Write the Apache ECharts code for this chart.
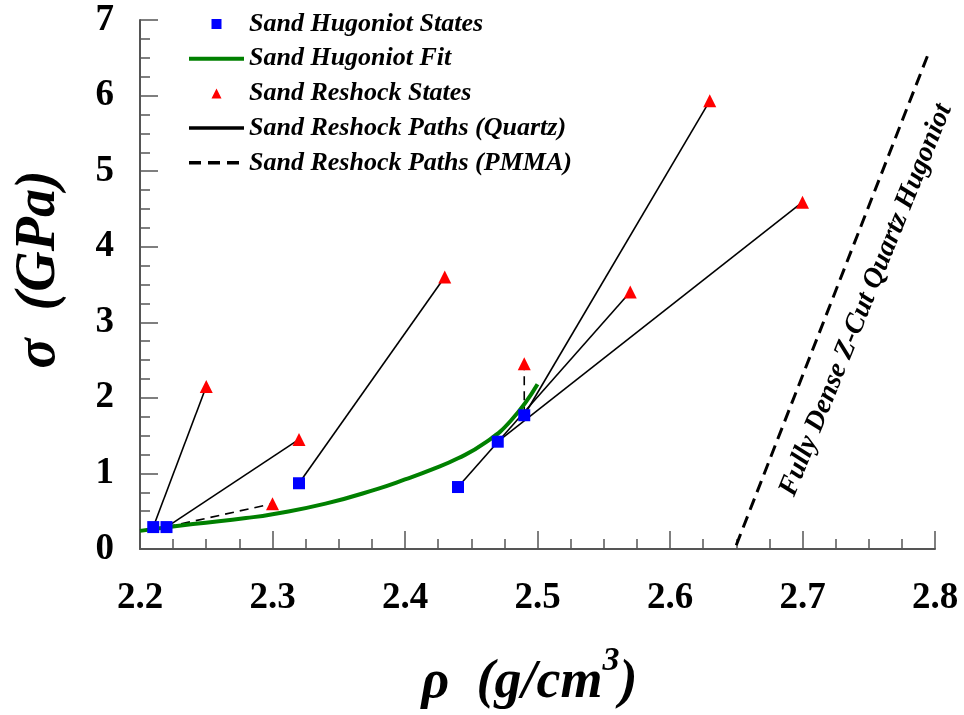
<!DOCTYPE html>
<html>
<head>
<meta charset="utf-8">
<script src="https://cdn.jsdelivr.net/npm/echarts@6/dist/echarts.min.js"></script>
<style>
  html, body { margin: 0; padding: 0; background: #fff; }
  #chart { width: 964px; height: 715px; }
</style>
</head>
<body>
<div id="chart"></div>
<script>
// Sand Hugoniot states (density g/cm3, stress GPa)
const hugoniotStates = [
  [2.21, 0.29], [2.22, 0.29], [2.32, 0.87], [2.44, 0.82], [2.47, 1.42], [2.49, 1.77]
]
// Sand reshock states
const reshockStates = [
  [2.25, 2.15], [2.32, 1.45], [2.30, 0.60], [2.43, 3.60],
  [2.49, 2.45], [2.57, 3.40], [2.63, 5.93], [2.70, 4.59]
]
// Hugoniot fit
const fitRho = [2.20, 2.24, 2.28, 2.30, 2.34, 2.38, 2.40, 2.42, 2.44, 2.46, 2.48, 2.50]
const fitSigma = [0.24, 0.33, 0.41, 0.46, 0.60, 0.80, 0.92, 1.05, 1.20, 1.40, 1.70, 2.18]
// reshock paths: [from, to]
const quartzPaths = [
  [[2.21, 0.29], [2.25, 2.15]],
  [[2.22, 0.29], [2.32, 1.45]],
  [[2.32, 0.87], [2.43, 3.60]],
  [[2.44, 0.82], [2.57, 3.40]],
  [[2.47, 1.42], [2.70, 4.59]],
  [[2.49, 1.77], [2.63, 5.93]]
]
const pmmaPaths = [
  [[2.22, 0.29], [2.30, 0.60]],
  [[2.49, 1.77], [2.49, 2.45]]
]
// fully dense z-cut quartz hugoniot
const quartzHugoniot = [[2.65, 0.05], [2.796, 6.6]]

const xTicks = [2.2, 2.8, 0.1]
const yTicks = [0, 7, 1]

const serif = 'Liberation Serif'
const chart = echarts.init(document.getElementById('chart'))

const series = [
  {
    name: 'Sand Hugoniot Fit',
    type: 'line',
    symbol: 'none',
    smooth: true,
    data: fitRho.map((r, i) => [r, fitSigma[i]]),
    lineStyle: { color: '#008000', width: 4 },
    itemStyle: { color: '#008000' },
    z: 3
  },
  {
    name: '',
    type: 'line',
    symbol: 'none',
    data: quartzHugoniot,
    lineStyle: { color: '#000', width: 3, type: [12, 7] },
    z: 2
  }
]
quartzPaths.forEach(p => series.push({
  name: 'Sand Reshock Paths (Quartz)',
  type: 'line',
  symbol: 'none',
  data: p,
  lineStyle: { color: '#000', width: 1.6 },
  itemStyle: { color: '#000' },
  z: 2
}))
pmmaPaths.forEach(p => series.push({
  name: 'Sand Reshock Paths (PMMA)',
  type: 'line',
  symbol: 'none',
  data: p,
  lineStyle: { color: '#000', width: 1.6, type: [9, 6] },
  itemStyle: { color: '#000' },
  z: 2
}))
series.push({
  name: 'Sand Hugoniot States',
  type: 'scatter',
  symbol: 'rect',
  symbolSize: 12,
  data: hugoniotStates,
  itemStyle: { color: '#0000ff', opacity: 1 },
  z: 4
})
series.push({
  name: 'Sand Reshock States',
  type: 'scatter',
  symbol: 'triangle',
  symbolSize: 13,
  data: reshockStates,
  itemStyle: { color: '#ff0000', opacity: 1 },
  z: 4
})

const axisStyle = { lineStyle: { color: '#555', width: 2 } }
const lineItem = (name, width, type) => ({
  name, itemStyle: { opacity: 0 }, lineStyle: { width, type }
})

chart.setOption({
  animation: false,
  backgroundColor: '#fff',
  grid: { left: 140, right: 29, top: 20, bottom: 166, outerBoundsMode: 'none' },
  legend: {
    orient: 'vertical',
    left: 182,
    top: 6,
    itemWidth: 55,
    itemHeight: 10,
    itemGap: 8.7,
    itemTextGap: 3,
    symbolKeepAspect: true,
    textStyle: {
      fontFamily: serif, fontSize: 26, fontStyle: 'italic', fontWeight: 'bold',
      color: '#000', lineHeight: 26
    },
    data: [
      { name: 'Sand Hugoniot States', icon: 'path://M0,0h10v10h-10z' },
      lineItem('Sand Hugoniot Fit', 4, 'solid'),
      { name: 'Sand Reshock States', icon: 'path://M5,0L10,10L0,10Z' },
      lineItem('Sand Reshock Paths (Quartz)', 3.5, 'solid'),
      lineItem('Sand Reshock Paths (PMMA)', 3.5, [12, 7])
    ]
  },
  xAxis: {
    type: 'value',
    min: xTicks[0], max: xTicks[1], interval: xTicks[2],
    axisLine: axisStyle,
    axisTick: { inside: true, length: 18, lineStyle: { color: '#555', width: 1.5 } },
    minorTick: { show: true, splitNumber: 4, length: 10, lineStyle: { color: '#555', width: 1.5 } },
    splitLine: { show: false },
    axisLabel: {
      margin: 31, fontFamily: serif, fontSize: 37, fontWeight: 'bold', color: '#000',
      formatter: v => v.toFixed(1)
    },
    name: '{a|ρ  (g/cm}{s|3}{a|)}',
    nameLocation: 'middle',
    nameGap: 95,
    nameTextStyle: {
      padding: [0, 16, 0, 0],
      rich: {
        a: { fontFamily: serif, fontSize: 54, fontStyle: 'italic', fontWeight: 'bold', color: '#000', lineHeight: 66, verticalAlign: 'bottom' },
        s: { fontFamily: serif, fontSize: 34, fontStyle: 'italic', fontWeight: 'bold', color: '#000', lineHeight: 66, verticalAlign: 'top' }
      }
    }
  },
  yAxis: {
    type: 'value',
    min: yTicks[0], max: yTicks[1], interval: yTicks[2],
    axisLine: axisStyle,
    axisTick: { inside: true, length: 18, lineStyle: { color: '#555', width: 1.5 } },
    minorTick: { show: true, splitNumber: 4, length: 10, lineStyle: { color: '#555', width: 1.5 } },
    splitLine: { show: false },
    axisLabel: { margin: 26, fontFamily: serif, fontSize: 37, fontWeight: 'bold', color: '#000' },
    name: 'σ  (GPa)',
    nameLocation: 'middle',
    nameGap: 72,
    nameTextStyle: {
      fontFamily: serif, fontSize: 56, fontStyle: 'italic', fontWeight: 'bold', color: '#000',
      padding: [0, 0, 0, 30]
    }
  },
  graphic: [{
    type: 'text',
    x: 866, y: 300,
    rotation: 68 * Math.PI / 180,
    style: {
      text: 'Fully Dense Z-Cut Quartz Hugoniot',
      fontFamily: serif, fontSize: 28, fontStyle: 'italic', fontWeight: 'bold',
      fill: '#000', align: 'center', verticalAlign: 'middle'
    }
  }],
  series
})
</script>
</body>
</html>
